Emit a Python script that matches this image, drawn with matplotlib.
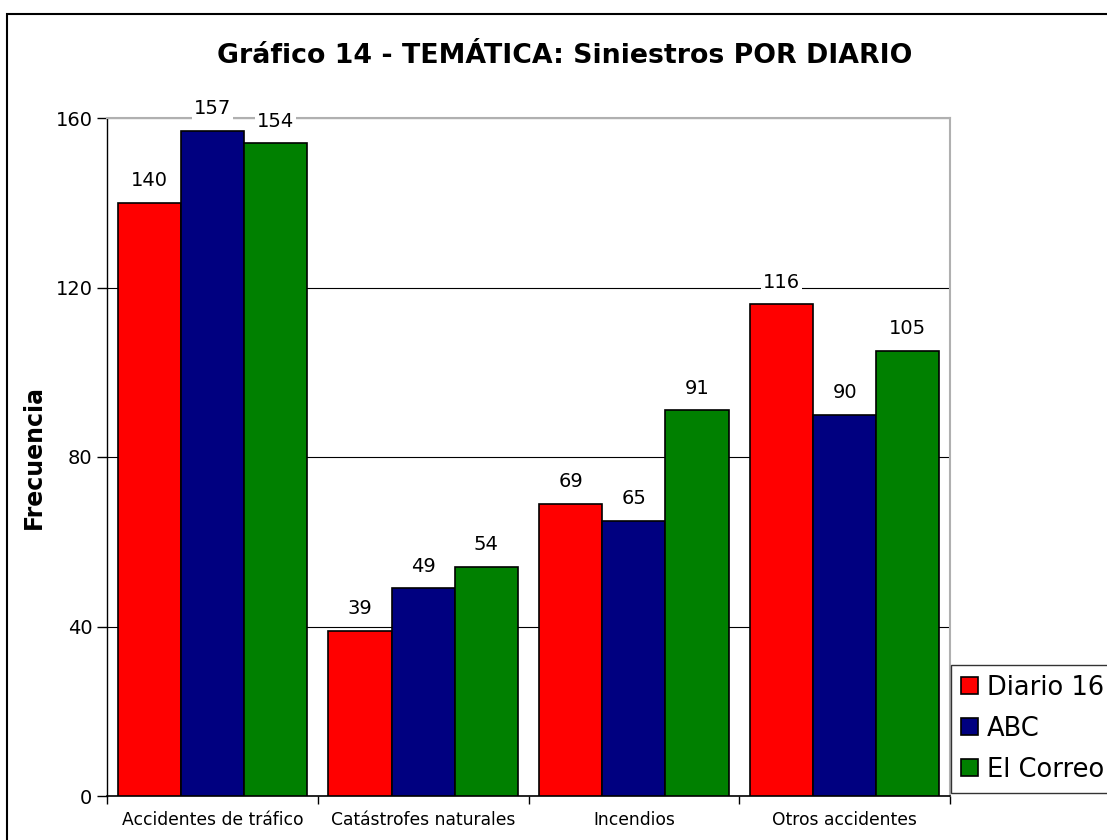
import numpy as np
import matplotlib.pyplot as plt
from matplotlib.patches import Rectangle

categories = ['Accidentes de tráfico', 'Catástrofes naturales', 'Incendios', 'Otros accidentes']
series = ['Diario 16', 'ABC', 'El Correo']
values = {
    'Diario 16': [140, 39, 69, 116],
    'ABC': [157, 49, 65, 90],
    'El Correo': [154, 54, 91, 105],
}
colors = ['#ff0000', '#000080', '#008000']
yticks = [0, 40, 80, 120, 160]

plt.rcParams['font.family'] = 'DejaVu Sans'

fig = plt.figure(figsize=(11.07, 8.4), dpi=100)
ax = fig.add_axes([107 / 1107, 1 - 796 / 840, (950 - 107) / 1107, (796 - 118) / 840])

# outer chart border (cut off at right/bottom like the reference)
fig.patches.append(Rectangle((7 / 1107, -0.1), 1.2, 1 - 14 / 840 + 0.1,
                             transform=fig.transFigure, fill=False,
                             edgecolor='black', linewidth=1.5))

x = np.arange(len(categories))
width = 0.30
for i, (name, c) in enumerate(zip(series, colors)):
    pos = x + (i - 1) * width
    ax.bar(pos, values[name], width, color=c, edgecolor='black',
           linewidth=1.2, label=name, zorder=3)
    for xp, v in zip(pos, values[name]):
        ax.text(xp, v + 3, str(v), ha='center', va='bottom', fontsize=14,
                color='black', zorder=4,
                bbox=dict(facecolor='white', edgecolor='none', pad=1.5))

ax.set_xlim(-0.5, len(categories) - 0.5)
ax.set_ylim(0, 160)
ax.set_yticks(yticks)
ax.tick_params(axis='y', labelsize=14, direction='out', length=7, width=1)
ax.set_xticks(np.arange(len(categories) + 1) - 0.5, minor=False)
ax.set_xticklabels([])
ax.set_xticks(x, minor=True)
ax.set_xticklabels(categories, minor=True, fontsize=12.3)
ax.tick_params(axis='x', which='minor', length=0, pad=11)
ax.tick_params(axis='x', which='major', direction='out', length=6, width=1)

ax.yaxis.grid(True, color='black', linewidth=0.8, zorder=0)
ax.set_axisbelow(True)
for s in ['top', 'right']:
    ax.spines[s].set_color('#b0b0b0')
    ax.spines[s].set_linewidth(1.5)
ax.spines['left'].set_linewidth(1)
ax.spines['bottom'].set_linewidth(1.2)

ax.set_ylabel('Frecuencia', fontsize=17, fontweight='bold', labelpad=7)
fig.text(565 / 1107, 1 - 56 / 840, 'Gráfico 14 - TEMÁTICA: Siniestros POR DIARIO',
         ha='center', va='center', fontsize=19.3, fontweight='bold')

leg = fig.legend(loc='lower left', bbox_to_anchor=(951 / 1107, 1 - 793 / 840),
                 fontsize=18.5, frameon=True, fancybox=False, edgecolor='black',
                 handlelength=0.65, handleheight=0.65, handletextpad=0.35,
                 borderpad=0.4, labelspacing=0.58, borderaxespad=0)
leg.get_frame().set_linewidth(1)

fig.savefig('out.png', dpi=100)
